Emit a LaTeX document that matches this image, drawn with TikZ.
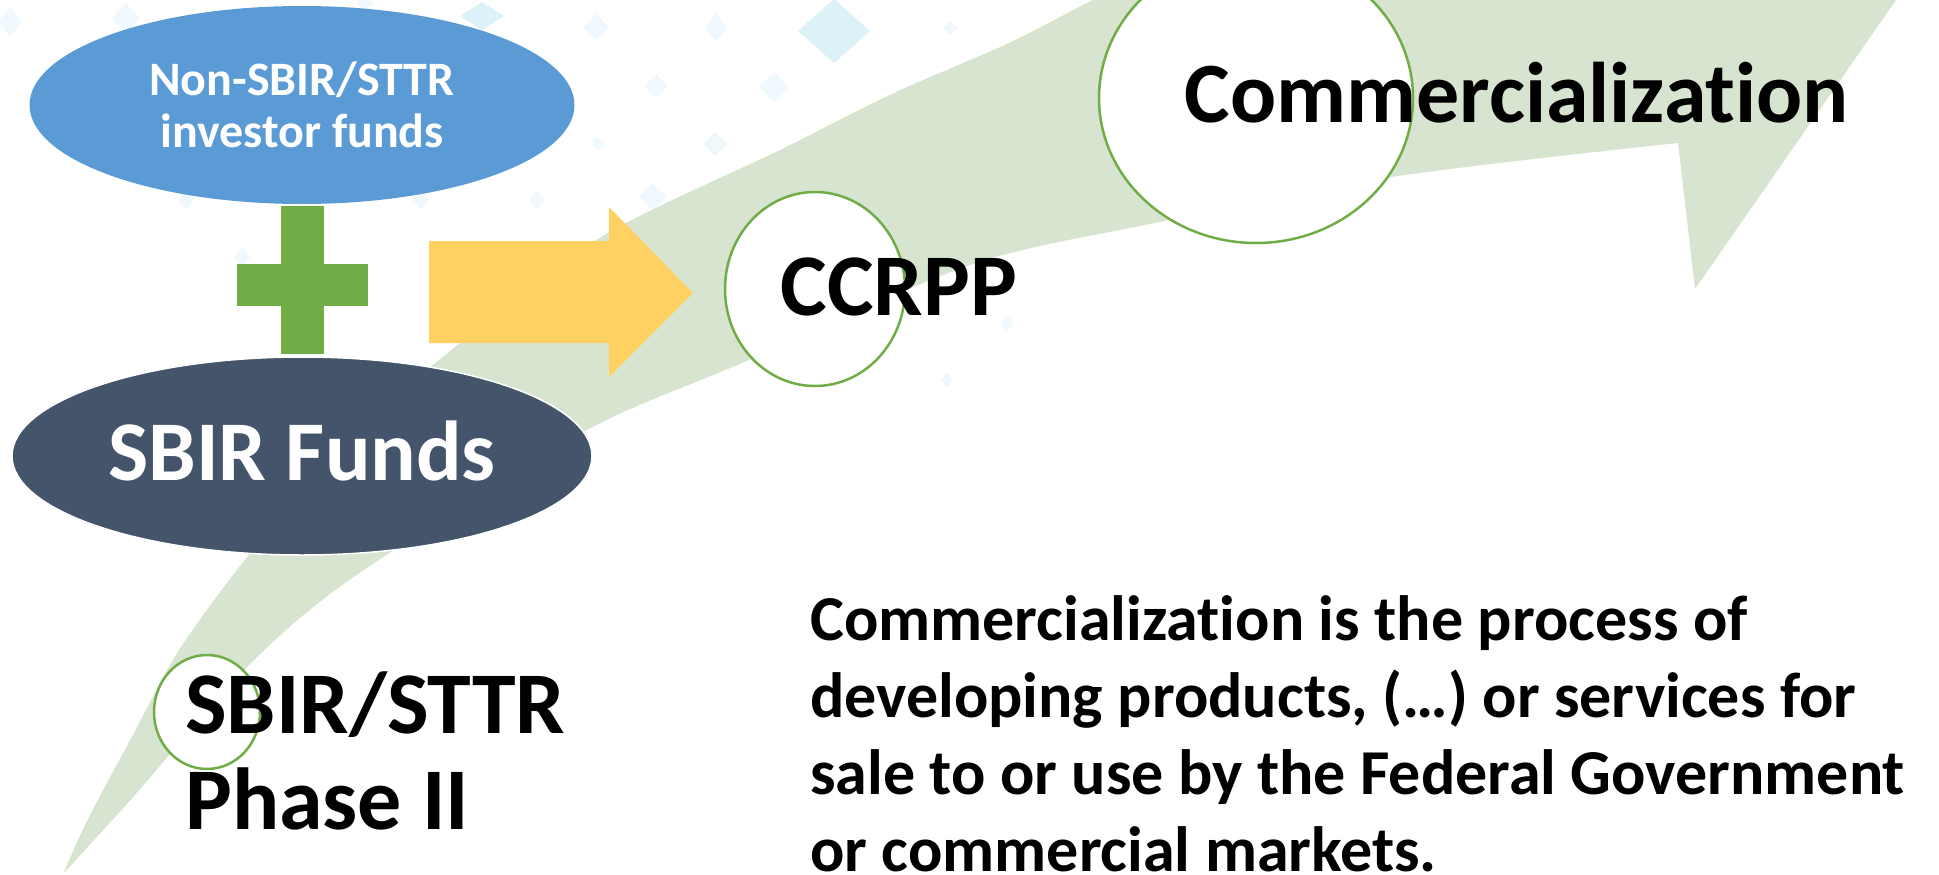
\documentclass[tikz,border=0pt]{standalone}
\usepackage{fontspec}
\setmainfont{Carlito}[Ligatures={NoCommon}]
\usetikzlibrary{shapes.geometric}
\definecolor{sky}{HTML}{5B9BD5}
\definecolor{slate}{HTML}{44546A}
\definecolor{leaf}{HTML}{70AD47}
\definecolor{gold}{HTML}{FFD162}
\definecolor{sage}{HTML}{D6E4D0}
\definecolor{ice}{HTML}{DDF1F8}
\definecolor{frost}{HTML}{EFF8FC}
\tikzset{
  fund/.style={ellipse, inner sep=0mm, text=white, align=center
  },
  ring/.style={
    draw=leaf, fill=white, ellipse, inner sep=0mm, line width=2.5pt
  },
  word/.style={
    inner sep=0mm, text=black, align=left, font=\bfseries\fontsize{86}{100}\selectfont
  }
}

\begin{document}
\begin{tikzpicture}[x=1pt, y=-1pt]
 \useasboundingbox (0,0) rectangle (1939,875);
 \clip (0,0) rectangle (1939,875);

 \foreach \x/\y/\w/\h in {10/22/12/15, 126/18/14/15, 365/3/8/8, 596/27/13/13, 716/27/11/14,
   656/86/12/12, 774/87/15/15, 597/143/7/7, 715/144/12/12, 653/197/14/13, 950/28/7/7,
   186/200/8/10, 421/200/8/10, 537/200/8/10, 242/257/8/10, 1007/323/6/8, 947/380/6/8} {
   \fill[frost] (\x-\w,\y) -- (\x,\y-\h) -- (\x+\w,\y) -- (\x,\y+\h) -- cycle;
  }
 \fill[ice] (798,31) -- (834,-1) -- (870,31) -- (834,63) -- cycle;
 \fill[ice] (460,16) -- (482,2) -- (504,16) -- (482,30) -- cycle;

 \fill[sage] plot[smooth] coordinates {(63,874) (89,817) (134,733) (179,650) (248,556)
   (336,455) (433,365) (596,240) (780,150) (894,93) (1009,43) (1093,0) (1200,-50)}
   -- (1986,-130) -- (1896,0) -- (1695,289) -- (1678,143)
   -- plot[smooth] coordinates {(1678,143) (1391,177) (1150,224) (970,265) (742,363)
   (585,431) (388,554) (312,608) (250,664) (188,733) (134,796) (63,874)} -- cycle;

 \node[ring, minimum width=180pt, minimum height=194pt] (ccrpp) at (815,289) {};
 \node[ring, minimum width=314pt, minimum height=290pt] (commring) at (1256,98) {};
 \node[ring, minimum width=106pt, minimum height=114pt] (phasering) at (207,712) {};

 \fill[leaf] (281,206) rectangle (324,354);
 \fill[leaf] (237,264) rectangle (368,306);
 \fill[gold] (429,241) -- (609,241) -- (609,207) -- (693,293) -- (609,377) -- (609,343)
   -- (429,343) -- cycle;

 \node[fund, fill=sky, minimum width=545pt, minimum height=198pt,
   font=\bfseries\fontsize{48}{52}\selectfont] (nonsbir) at (302,105) {Non-SBIR/STTR\\investor funds};
 \node[fund, fill=slate, draw=white, line width=1.5pt, minimum width=580pt, minimum height=198pt,
   font=\bfseries\fontsize{85}{100}\selectfont, text height=48pt, text depth=0pt] (sbirfunds) at (302,456) {SBIR Funds};

 \node[word, anchor=base, font=\bfseries\fontsize{88}{100}\selectfont] (ccrpptext) at (899,315) {CCRPP};
 \node[word, anchor=base] (commtext) at (1517,122) {Commercialization};
 \node[word, anchor=north west, font=\bfseries\fontsize{88}{96}\selectfont] (phasetext) at (185,672) {SBIR/STTR\\Phase II};
 \node[word, anchor=north west, font=\bfseries\fontsize{64}{77}\selectfont] (definition) at (810,595)
   {Commercialization is the process of\\developing products, (…) or services for\\sale to or use by the Federal Government\\or commercial markets.};
\end{tikzpicture}
\end{document}
